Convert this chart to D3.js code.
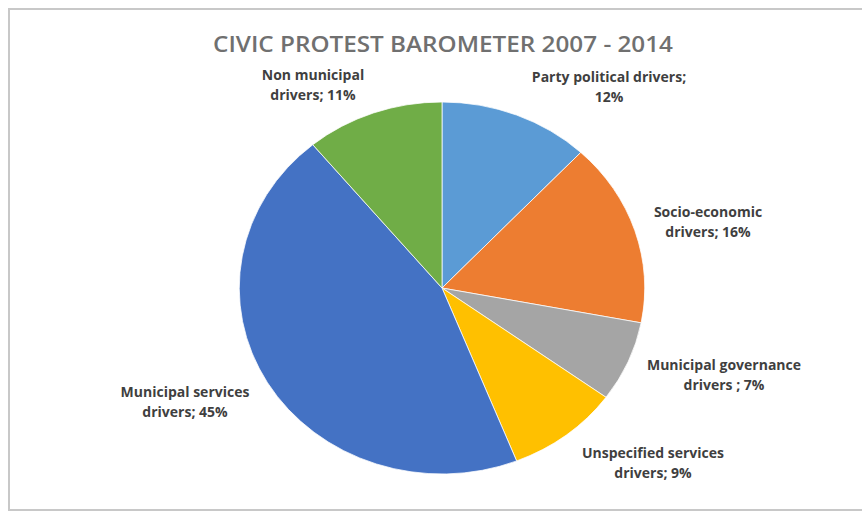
<!DOCTYPE html>
<html>
<head>
<meta charset="utf-8">
<script src="https://cdn.jsdelivr.net/npm/d3@7"></script>
<style>
	html, body { margin: 0; padding: 0; background: #fff; }
	svg { display: block; }
</style>
</head>
<body>
<div id="chart"></div>
<script>
// chart data
const title = "CIVIC PROTEST BAROMETER 2007 - 2014";
const categories = ["Party political drivers", "Socio-economic drivers", "Municipal governance drivers", "Unspecified services drivers", "Municipal services drivers", "Non municipal drivers"];
const values = [12, 16, 7, 9, 45, 11];
const colors = ["#5b9bd5", "#ed7d31", "#a5a5a5", "#ffc000", "#4472c4", "#70ad47"];
// how each data label is split into two lines (value is appended to the second)
const labelFirstLine = ["Party political drivers;", "Socio-economic", "Municipal governance", "Unspecified services", "Municipal services", "Non municipal"];
const labelSecondPrefix = ["", "drivers; ", "drivers ; ", "drivers; ", "drivers; ", "drivers; "];

// layout
const width = 862, height = 513;
const cx = 442, cy = 288;
const ry = 186, stretch = 1.09; // the source pie is slightly wider than tall
const labelPos = [[609, 77], [708, 212], [724, 365], [653, 453], [185, 392], [313, 75]];

const svg = d3.select("#chart").append("svg")
	.attr("width", width)
	.attr("height", height);

// chart area frame (right edge is off the picture)
svg.append("path")
	.attr("d", `M${width + 5},9 H9 V510 H${width + 5}`)
	.attr("fill", "none")
	.attr("stroke", "#c8c8c8")
	.attr("stroke-width", 2);

svg.append("text")
	.attr("x", cx + 1)
	.attr("y", 52)
	.attr("text-anchor", "middle")
	.attr("font-family", "'Open Sans', sans-serif")
	.attr("font-size", 21)
	.attr("font-weight", 600)
	.attr("fill", "#707070")
	.attr("textLength", 460)
	.attr("lengthAdjust", "spacingAndGlyphs")
	.text(title);

const pie = d3.pie().sort(null).value(d => d);
const arc = d3.arc().innerRadius(0).outerRadius(ry);

const g = svg.append("g")
	.attr("transform", `translate(${cx},${cy}) scale(${stretch},1)`);

g.selectAll("path.slice")
	.data(pie(values))
	.join("path")
	.attr("class", "slice")
	.attr("d", arc)
	.attr("fill", (d, i) => colors[i])
	.attr("stroke", "#fff")
	.attr("stroke-width", 0.75)
	.attr("vector-effect", "non-scaling-stroke");

// data labels
const labels = svg.selectAll("text.label")
	.data(categories)
	.join("text")
	.attr("class", "label")
	.attr("text-anchor", "middle")
	.attr("font-family", "'Open Sans', sans-serif")
	.attr("font-weight", "bold")
	.attr("font-size", 14)
	.attr("fill", "#3f3f3f");

labels.append("tspan")
	.attr("x", (d, i) => labelPos[i][0])
	.attr("y", (d, i) => labelPos[i][1] + 5)
	.text((d, i) => labelFirstLine[i]);

labels.append("tspan")
	.attr("x", (d, i) => labelPos[i][0])
	.attr("y", (d, i) => labelPos[i][1] + 25)
	.text((d, i) => labelSecondPrefix[i] + values[i] + "%");
</script>
</body>
</html>
